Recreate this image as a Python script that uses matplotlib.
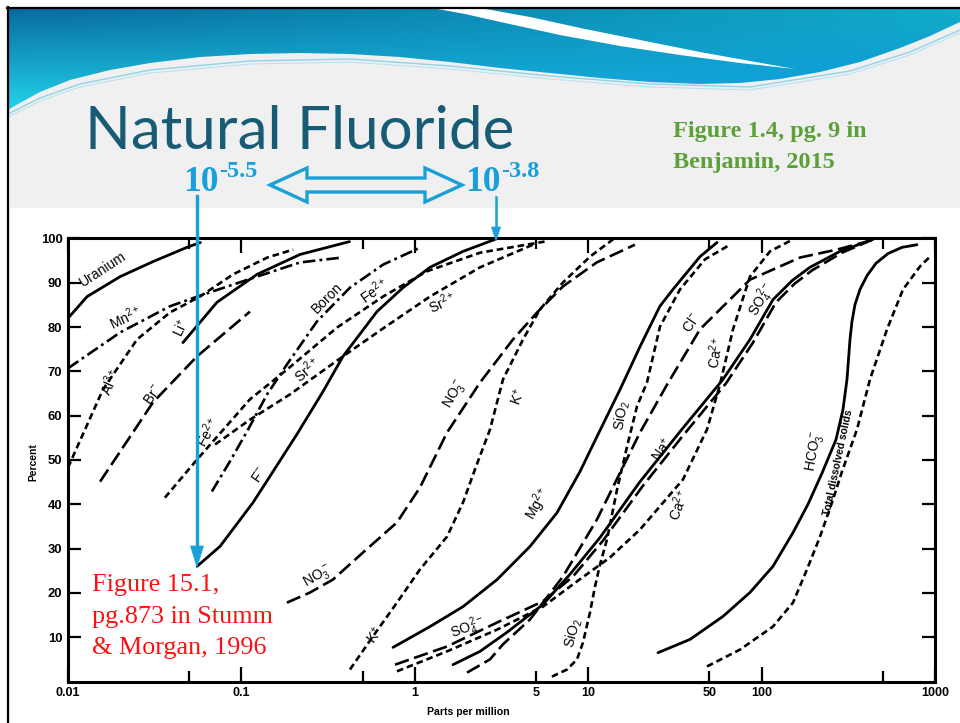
import numpy as np
import matplotlib
matplotlib.use("Agg")
import matplotlib.pyplot as plt
from matplotlib.patches import Polygon, Rectangle
from matplotlib.ticker import FixedLocator, FixedFormatter

plt.rcParams['lines.scale_dashes'] = False
plt.rcParams['font.family'] = ['Liberation Sans', 'DejaVu Sans']
plt.rcParams['mathtext.fontset'] = 'custom'
plt.rcParams['mathtext.rm'] = 'Liberation Sans'
plt.rcParams['mathtext.it'] = 'Liberation Sans:italic'
plt.rcParams['mathtext.bf'] = 'Liberation Sans:bold'
plt.rcParams['mathtext.default'] = 'regular'

# ---------------- data: concentration (ppm) vs cumulative percent ----------------
uranium_ppm = [0.010, 0.0129, 0.020, 0.031, 0.0485, 0.058]
uranium_pct = [82.0, 86.9, 91.4, 94.8, 98.0, 99.1]
mn_ppm = [0.010, 0.020, 0.0387, 0.0577, 0.123, 0.218, 0.38]
mn_pct = [70.7, 78.8, 84.7, 87.1, 91.4, 94.6, 95.7]
al_ppm = [0.010, 0.0159, 0.025, 0.0387, 0.0577, 0.0895, 0.141, 0.199]
al_pct = [48.3, 65.9, 77.2, 83.3, 86.9, 91.9, 95.7, 97.5]
li_ppm = [0.046, 0.0723, 0.123, 0.218, 0.42]
li_pct = [76.5, 85.6, 91.9, 96.4, 99.3]
br_ppm = [0.0153, 0.0309, 0.0555, 0.112]
br_pct = [45.1, 63.0, 73.4, 83.5]
fe_ppm = [0.0362, 0.0555, 0.112, 0.183, 0.356, 0.656, 1.175, 2.38, 5.6]
fe_pct = [41.5, 50.1, 63.7, 70.4, 79.9, 86.9, 92.6, 96.8, 99.3]
boron_ppm = [0.0676, 0.0859, 0.1076, 0.1406, 0.1833, 0.273, 0.4226, 0.656, 1.04]
boron_pct = [42.9, 49.7, 56.4, 64.8, 71.6, 81.3, 88.9, 94.1, 97.7]
sr_ppm = [0.0705, 0.112, 0.1905, 0.3855, 0.656, 1.224, 2.38, 4.8]
sr_pct = [53.5, 59.1, 64.8, 73.4, 79.7, 86.9, 93.5, 98.6]
f_ppm = [0.0555, 0.0753, 0.1167, 0.146, 0.209, 0.296, 0.3855, 0.605, 0.855, 1.224, 1.9, 2.9]
f_pct = [26.0, 30.5, 40.4, 46.3, 55.8, 65.5, 73.4, 83.5, 88.9, 93.5, 97.1, 99.8]
no3_ppm = [0.183, 0.249, 0.337, 0.502, 0.789, 1.071, 1.534, 2.38, 3.68, 5.07, 7.16, 11.2, 18.6]
no3_pct = [17.8, 20.1, 23.0, 29.1, 35.9, 43.8, 56.2, 67.5, 77.2, 83.3, 89.2, 94.6, 98.6]
k_ppm = [0.4226, 0.574, 0.789, 1.071, 1.534, 1.897, 2.224, 2.715, 3.226, 4.207, 5.272, 7.156, 10.24, 13.9]
k_pct = [2.7, 10.2, 17.8, 25.3, 32.7, 40.4, 47.9, 56.9, 68.2, 77.2, 84.0, 90.1, 95.9, 99.8]
mg_ppm = [0.749, 1.224, 1.897, 2.98, 4.62, 6.61, 8.97, 11.24, 15.26, 19.9, 25.9, 30.8, 44.1, 55.3]
mg_pct = [7.7, 12.4, 16.9, 23.0, 30.5, 38.1, 47.4, 55.3, 65.9, 75.6, 84.7, 88.5, 95.9, 99.1]
sio2_ppm = [6.18, 7.55, 8.62, 9.33, 10.24, 10.94, 11.7, 12.84, 14.66, 16.74, 19.11, 21.83, 25.94, 33.83, 47.17, 65.7]
sio2_pct = [1.1, 2.7, 5.0, 8.8, 15.6, 21.4, 26.4, 32.1, 43.3, 53.0, 62.1, 67.5, 80.1, 88.5, 95.3, 98.6]
na_ppm = [1.661, 2.377, 3.401, 5.487, 7.852, 11.7, 19.89, 33.83, 59.9, 85.7, 116.3, 150.0, 190.1, 283.2, 438.9]
na_pct = [3.8, 6.8, 11.1, 17.4, 24.2, 32.5, 45.1, 56.4, 68.2, 77.2, 86.2, 90.5, 93.5, 97.1, 99.8]
so4_ppm = [0.769, 1.534, 2.979, 5.487, 8.17, 12.17, 20.7, 35.2, 62.3, 89.2, 121.1, 155.0, 195.3, 290.9, 410.8]
so4_pct = [3.8, 7.9, 13.3, 18.1, 23.7, 31.8, 44.2, 55.5, 67.3, 76.5, 85.6, 89.8, 92.8, 96.8, 99.3]
ca_ppm = [0.789, 1.534, 2.979, 5.487, 8.616, 13.36, 19.89, 35.2, 48.43, 57.5, 68.4, 85.7, 111.8, 151.7]
ca_pct = [2.3, 6.8, 11.7, 16.9, 22.6, 28.0, 34.3, 45.6, 56.9, 67.0, 79.5, 91.4, 97.1, 99.8]
cl_ppm = [2.0, 2.715, 3.226, 4.617, 7.156, 11.24, 19.89, 28.48, 44.13, 85.7, 166.5, 272.2, 462.9]
cl_pct = [2.0, 5.0, 8.4, 14.0, 23.7, 36.6, 56.2, 67.0, 79.5, 90.7, 95.7, 97.5, 99.9]
hco3_ppm = [25.26, 38.64, 59.9, 85.7, 116.3, 151.7, 185.1, 222.9, 268.5, 294.7, 310.8, 323.4,
            332.1, 345.6, 369.4, 405.3, 456.6, 535.8, 645.0, 787.4]
hco3_pct = [6.5, 9.5, 14.7, 20.1, 26.0, 33.6, 40.0, 47.0, 54.6, 61.4, 68.2, 77.2,
            81.3, 85.1, 88.5, 91.6, 94.4, 96.6, 98.0, 98.6]
tds_ppm = [48.43, 75.06, 116.3, 151.7, 182.7, 217.2, 254.7, 290.9, 354.9, 421.8, 528.8, 654.0, 819.5, 936.0]
tds_pct = [3.4, 7.2, 12.4, 17.8, 25.3, 32.7, 40.4, 47.4, 56.9, 68.2, 79.5, 88.5, 93.7, 95.9]

# curve labels: text, ppm, percent, rotation
label_text = ['Uranium', r'Mn$^{2+}$', r'Li$^{+}$', r'Al$^{3+}$', r'Br$^{-}$', r'Fe$^{2+}$',
              'Boron', r'Fe$^{2+}$', r'Sr$^{2+}$', r'Sr$^{2+}$', r'F$^{-}$', r'NO$_3^{\,-}$',
              r'NO$_3^{\,-}$', r'K$^{+}$', r'K$^{+}$', r'Mg$^{2+}$', r'SO$_4^{\,2-}$', r'SiO$_2$',
              r'SiO$_2$', r'Na$^{+}$', r'Ca$^{2+}$', r'Ca$^{2+}$', r'Cl$^{-}$', r'SO$_4^{\,2-}$',
              r'HCO$_3^{\,-}$', 'Total dissolved solids']
label_ppm = [0.0159, 0.0213, 0.0449, 0.01746, 0.0309, 0.0642,
             0.3118, 0.5816, 0.239, 1.435, 0.128, 0.2766,
             1.705, 0.5895, 3.937, 5.135, 2.027, 8.28,
             15.66, 26.65, 33.4, 54.6, 39.7, 100.5,
             203.2, 275.8]
label_pct = [93.0, 82.2, 79.9, 67.7, 64.8, 56.4,
             86.5, 88.3, 70.4, 85.6, 46.7, 23.7,
             64.8, 10.6, 64.3, 40.0, 12.0, 10.8,
             60.0, 52.4, 40.0, 74.3, 81.0, 86.2,
             51.9, 49.4]
label_rot = [33, 25, 65, 65, 55, 60,
             45, 35, 40, 25, 55, 30,
             60, 55, 70, 60, 20, 75,
             80, 55, 70, 80, 55, 60,
             80, 78]

x_major = [0.01, 0.1, 1, 10, 100, 1000]
x_major_labels = ['0.01', '0.1', '1', '10', '100', '1000']
x_minor = [0.05, 0.5, 5, 50, 500]
x_minor_labels = ['', '', '5', '50', '']
y_ticks = [10, 20, 30, 40, 50, 60, 70, 80, 90, 100]

SOLID = '-'
SHORT = (0, (4.8, 2.8))
LONG = (0, (10.5, 4.0))
DASHDOT = (0, (9.0, 3.0, 2.0, 3.0))

series = [
    (uranium_ppm, uranium_pct, SOLID), (mn_ppm, mn_pct, DASHDOT), (al_ppm, al_pct, SHORT),
    (li_ppm, li_pct, SOLID), (br_ppm, br_pct, LONG), (fe_ppm, fe_pct, SHORT),
    (boron_ppm, boron_pct, DASHDOT), (sr_ppm, sr_pct, SHORT), (f_ppm, f_pct, SOLID),
    (no3_ppm, no3_pct, LONG), (k_ppm, k_pct, SHORT), (mg_ppm, mg_pct, SOLID),
    (sio2_ppm, sio2_pct, SHORT), (na_ppm, na_pct, SOLID), (so4_ppm, so4_pct, LONG),
    (ca_ppm, ca_pct, SHORT), (cl_ppm, cl_pct, LONG), (hco3_ppm, hco3_pct, SOLID),
    (tds_ppm, tds_pct, SHORT),
]

BLUE = '#19a0d8'

fig = plt.figure(figsize=(9.6, 7.23), dpi=100)

# ---------------- slide background ----------------
bg = fig.add_axes([0, 0, 1, 1], zorder=0)
bg.axis('off')
bg.add_patch(Rectangle((0, 0), 960, 723, facecolor='white', edgecolor='none'))
bg.add_patch(Rectangle((8, 8), 952, 715, facecolor='#f0f0f0', edgecolor='none'))

hdr = [(8, 8), (960, 8), (960, 22), (930, 36), (900, 48), (860, 62), (820, 72), (780, 79),
       (740, 83), (700, 84), (650, 82), (600, 78), (550, 73), (500, 68), (450, 62), (400, 57),
       (350, 54), (300, 53), (250, 54), (200, 57), (150, 63), (110, 70), (70, 80), (40, 92),
       (18, 104), (8, 110)]
hpoly = Polygon(hdr, closed=True, facecolor='none', edgecolor='none')
bg.add_patch(hpoly)
nx, ny = 240, 80
u = np.linspace(0, 1, nx)[None, :, None]
v = np.linspace(0, 1, ny)[:, None, None]
TL = np.array([8, 105, 160]) / 255
TR = np.array([18, 172, 200]) / 255
BL = np.array([35, 215, 235]) / 255
BR = np.array([10, 150, 222]) / 255
img = (1 - u) * (1 - v) * TL + u * (1 - v) * TR + (1 - u) * v * BL + u * v * BR
im = bg.imshow(img, extent=(8, 960, 112, 8), aspect='auto', zorder=1)
im.set_clip_path(hpoly)

swoosh = [(432, 8), (480, 8), (530, 17), (585, 29), (640, 40), (700, 52), (750, 61), (795, 69),
          (740, 63), (680, 55), (620, 46), (560, 35), (505, 23), (465, 14)]
bg.add_patch(Polygon(swoosh, closed=True, facecolor='white', edgecolor='none', zorder=2))
wave_x = [8, 40, 80, 150, 250, 350, 450, 550, 650, 750, 850, 910, 960]
wave_y = [114, 98, 84, 70, 61, 59, 66, 76, 84, 87, 71, 52, 30]
bg.plot(wave_x, wave_y, color='#8fd3e8', lw=1.0, zorder=2)
bg.plot(wave_x, [w + 3 for w in wave_y], color='#b8e4f0', lw=0.8, zorder=2)

bg.add_patch(Rectangle((10, 208), 950, 515, facecolor='white', edgecolor='none', zorder=2))
bg.plot([7, 960], [7.5, 7.5], color='black', lw=1.6, zorder=3)
bg.plot([7.5, 7.5], [7, 723], color='black', lw=1.6, zorder=3)
bg.set_xlim(0, 960)
bg.set_ylim(723, 0)

# ---------------- chart ----------------
ax = fig.add_axes([68 / 960, (723 - 681.5) / 723, (935 - 68) / 960, (681.5 - 238.5) / 723], zorder=2)
ax.set_facecolor('white')
ax.set_xscale('log')
for xs, ys, ls in series:
    ax.plot(xs, ys, color='black', lw=2.0 if ls == SOLID else 1.9, linestyle=ls,
            solid_capstyle='round', solid_joinstyle='round', dash_capstyle='butt')

for t, xp, yp, r in zip(label_text, label_ppm, label_pct, label_rot):
    small = t.startswith('Total')
    ax.text(xp, yp, t, rotation=r, rotation_mode='anchor', ha='center', va='center',
            fontsize=7.5 if small else 10, fontweight='bold' if small else 'normal',
            color='black')

ax.set_xlim(0.01, 1000)
ax.set_ylim(0, 100)
ax.xaxis.set_major_locator(FixedLocator(x_major))
ax.xaxis.set_major_formatter(FixedFormatter(x_major_labels))
ax.xaxis.set_minor_locator(FixedLocator(x_minor))
ax.xaxis.set_minor_formatter(FixedFormatter(x_minor_labels))
ax.set_yticks(y_ticks)
ax.set_yticklabels([str(t) for t in y_ticks])
ax.tick_params(axis='x', which='major', direction='in', length=11, width=1.6, top=True,
               labelsize=9, pad=4)
ax.tick_params(axis='x', which='minor', direction='in', length=8, width=1.6, top=True,
               labelsize=9, pad=4)
ax.tick_params(axis='y', which='major', direction='in', length=9.5, width=1.6, right=True,
               labelsize=9.4, pad=4)
for lab in ax.get_xticklabels() + ax.get_xticklabels(minor=True) + ax.get_yticklabels():
    lab.set_fontweight('bold')
for s in ax.spines.values():
    s.set_linewidth(2.2)

# ---------------- overlay: titles and annotations ----------------
ov = fig.add_axes([0, 0, 1, 1], zorder=5)
ov.axis('off')
ov.set_xlim(0, 960)
ov.set_ylim(723, 0)

ov.text(85, 149, 'Natural Fluoride', fontsize=43.3, color='#175b74',
        family=['Lato', 'DejaVu Sans'], ha='left', va='baseline')
ov.text(673, 137, 'Figure 1.4, pg. 9 in', fontsize=17.5, color='#5da03a', fontweight='bold',
        family=['Liberation Serif'], ha='left', va='baseline')
ov.text(673, 168, 'Benjamin, 2015', fontsize=17.5, color='#5da03a', fontweight='bold',
        family=['Liberation Serif'], ha='left', va='baseline')

for x0, sup in [(183, '-5.5'), (465, '-3.8')]:
    ov.text(x0, 191, '10', fontsize=25.5, color=BLUE, fontweight='bold',
            family=['Liberation Serif'], ha='left', va='baseline')
    ov.text(x0 + 36, 177, sup, fontsize=17.5, color=BLUE, fontweight='bold',
            family=['Liberation Serif'], ha='left', va='baseline')

darrow = [(270, 185), (307, 168), (307, 178), (425, 178), (425, 168), (462, 185),
          (425, 202), (425, 192), (307, 192), (307, 202)]
ov.add_patch(Polygon(darrow, closed=True, facecolor='none', edgecolor=BLUE, lw=2.4,
                     joinstyle='miter'))

ov.plot([197, 197], [196, 550], color=BLUE, lw=2.4)
ov.add_patch(Polygon([(190.5, 546), (203.5, 546), (197, 567)], closed=True,
                     facecolor=BLUE, edgecolor=BLUE, lw=0.5))
ov.plot([496, 496], [197, 230], color=BLUE, lw=1.8)
ov.add_patch(Polygon([(491.5, 227), (500.5, 227), (496, 241)], closed=True,
                     facecolor=BLUE, edgecolor=BLUE, lw=0.5))

for i, line in enumerate(['Figure 15.1,', 'pg.873 in Stumm', '& Morgan, 1996']):
    ov.text(92, 591 + 31.5 * i, line, fontsize=18.8, color='#ff1010',
            family=['Liberation Serif'], ha='left', va='baseline')

ov.text(33, 462, 'Percent', rotation=90, fontsize=7.4, fontweight='bold',
        ha='center', va='center')
ov.text(468, 712, 'Parts per million', fontsize=7.6, fontweight='bold',
        ha='center', va='center')

fig.savefig('out.png', dpi=100)
